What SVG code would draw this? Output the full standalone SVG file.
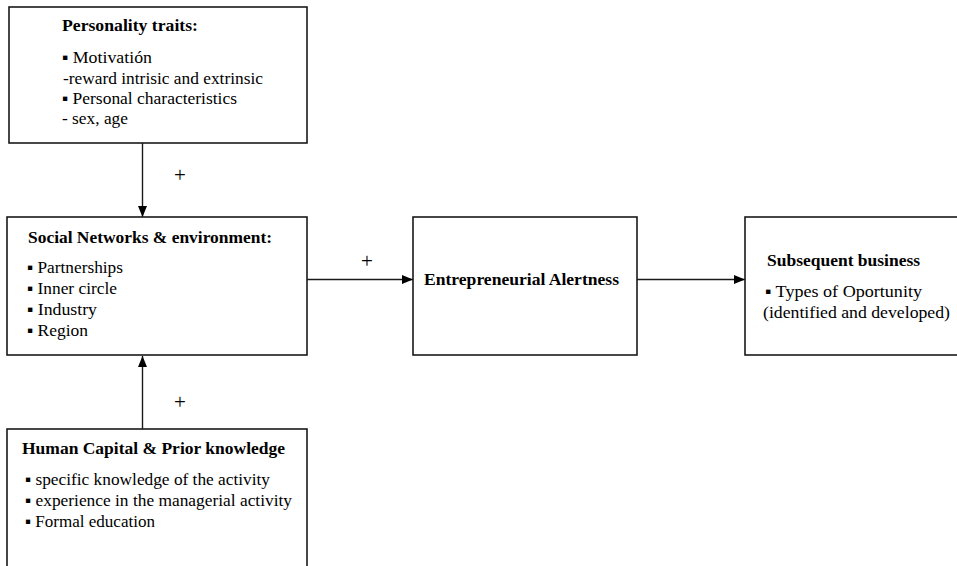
<svg xmlns="http://www.w3.org/2000/svg" width="957" height="566" viewBox="0 0 957 566">
<style>
.box{fill:#fff;stroke:#1a1a1a;stroke-width:1.6}
.t{font-size:17.5px;fill:#000}
.b{font-weight:bold}
.c{stroke:#1a1a1a;stroke-width:1.4;fill:none}
.p{font-size:21px;fill:#000;text-anchor:middle}
</style>
<defs>
<marker id="ah" markerWidth="12" markerHeight="10" refX="11" refY="5" orient="auto" markerUnits="userSpaceOnUse">
<path d="M0,0.5 L11,5 L0,9.5 Z" fill="#000"/>
</marker>
</defs>
<rect width="957" height="566" fill="#fff"/>
<g font-family="'Liberation Serif', 'Times New Roman', 'DejaVu Serif', serif">
<g id="connectors">
<line class="c" x1="142.5" y1="143" x2="142.5" y2="217" marker-end="url(#ah)"/>
<line class="c" x1="142.5" y1="429" x2="142.5" y2="356" marker-end="url(#ah)"/>
<line class="c" x1="307" y1="279.5" x2="413" y2="279.5" marker-end="url(#ah)"/>
<line class="c" x1="637" y1="279.5" x2="745" y2="279.5" marker-end="url(#ah)"/>
<text class="p" x="180" y="182">+</text>
<text class="p" x="180" y="409">+</text>
<text class="p" x="367" y="268">+</text>
</g>
<g id="personality">
<rect class="box" x="9" y="7" width="298" height="136"/>
<text class="t b" x="62" y="31" textLength="136" lengthAdjust="spacingAndGlyphs">Personality traits:</text>
<text class="t" x="62" y="63" textLength="90" lengthAdjust="spacingAndGlyphs">▪ Motivatión</text>
<text class="t" x="63" y="84" textLength="200" lengthAdjust="spacingAndGlyphs">-reward intrisic and extrinsic</text>
<text class="t" x="62" y="104" textLength="175" lengthAdjust="spacingAndGlyphs">▪ Personal characteristics</text>
<text class="t" x="62" y="124" textLength="66" lengthAdjust="spacingAndGlyphs">- sex, age</text>
</g>
<g id="social">
<rect class="box" x="7" y="217" width="300" height="138"/>
<text class="t b" x="28" y="243" textLength="244" lengthAdjust="spacingAndGlyphs">Social Networks &amp; environment:</text>
<text class="t" x="27" y="273" textLength="96" lengthAdjust="spacingAndGlyphs">▪ Partnerships</text>
<text class="t" x="27" y="294" textLength="90" lengthAdjust="spacingAndGlyphs">▪ Inner circle</text>
<text class="t" x="27" y="315" textLength="70" lengthAdjust="spacingAndGlyphs">▪ Industry</text>
<text class="t" x="27" y="336" textLength="61" lengthAdjust="spacingAndGlyphs">▪ Region</text>
</g>
<g id="human">
<rect class="box" x="7" y="429" width="300" height="160"/>
<text class="t b" x="22" y="454" textLength="263" lengthAdjust="spacingAndGlyphs">Human Capital &amp; Prior knowledge</text>
<text class="t" x="25" y="485" textLength="245" lengthAdjust="spacingAndGlyphs">▪ specific knowledge of the activity</text>
<text class="t" x="25" y="506" textLength="267" lengthAdjust="spacingAndGlyphs">▪ experience in the managerial activity</text>
<text class="t" x="25" y="527" textLength="130" lengthAdjust="spacingAndGlyphs">▪ Formal education</text>
</g>
<g id="alertness">
<rect class="box" x="413" y="217" width="224" height="138"/>
<text class="t b" x="424" y="285" textLength="195" lengthAdjust="spacingAndGlyphs">Entrepreneurial Alertness</text>
</g>
<g id="subsequent">
<rect class="box" x="745" y="217" width="230" height="138"/>
<text class="t b" x="767" y="266" textLength="153" lengthAdjust="spacingAndGlyphs">Subsequent business</text>
<text class="t" x="765" y="297" textLength="157" lengthAdjust="spacingAndGlyphs">▪ Types of Oportunity</text>
<text class="t" x="763" y="318" textLength="187" lengthAdjust="spacingAndGlyphs">(identified and developed)</text>
</g>
</g>
</svg>
